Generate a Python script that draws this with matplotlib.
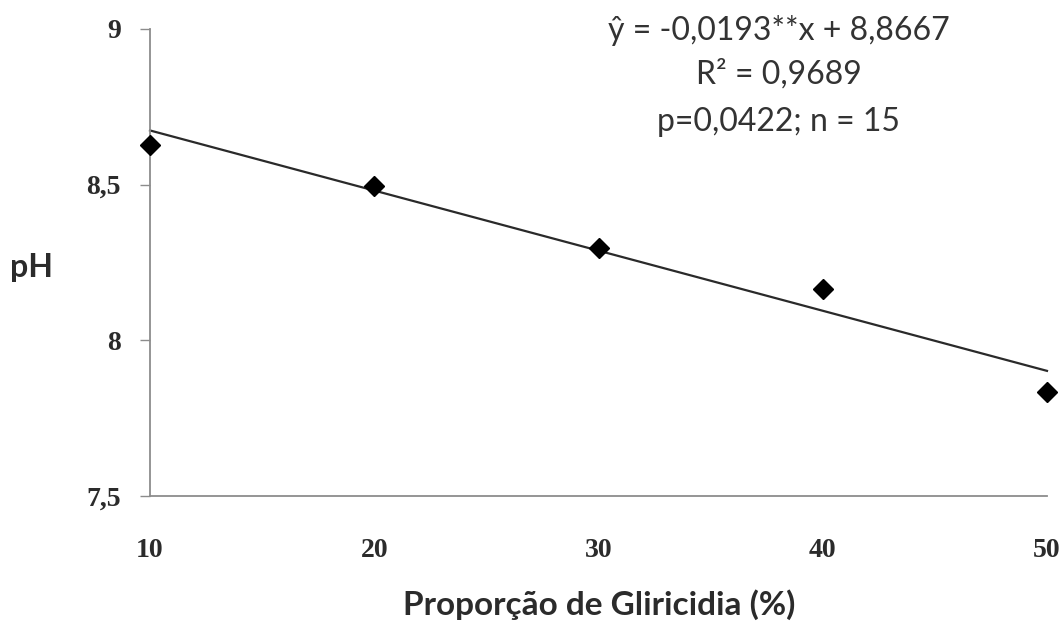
import matplotlib.pyplot as plt

# -----------------------------
# Data
# -----------------------------

proporcao = [10, 20, 30, 40, 50]
ph = [8.627, 8.495, 8.296, 8.164, 7.833]

slope = -0.0193
intercept = 8.8667

x_ticks = [10, 20, 30, 40, 50]
y_ticks = [7.5, 8.0, 8.5, 9.0]
y_tick_labels = ["7,5", "8", "8,5", "9"]

eq_lines = ["ŷ = -0,0193**x + 8,8667", "R² = 0,9689", "p=0,0422; n = 15"]

# -----------------------------
# Graph
# -----------------------------

fig = plt.figure(figsize=(10.64, 6.27), dpi=100)
ax = fig.add_axes([0.141, 0.209, 0.843, 0.745])

fit_x = [proporcao[0], proporcao[-1]]
fit_y = [slope * v + intercept for v in fit_x]
ax.plot(fit_x, fit_y, color="#2a2a2a", lw=1.6, zorder=2, clip_on=False)
ax.plot(proporcao, ph, linestyle="none", marker="D", ms=10,
        color="black", zorder=3, clip_on=False)

ax.set_xlim(10, 50)
ax.set_ylim(7.5, 9)
ax.set_xticks(x_ticks)
ax.set_yticks(y_ticks)
ax.set_yticklabels(y_tick_labels)

for side in ["top", "right"]:
    ax.spines[side].set_visible(False)
for side in ["left", "bottom"]:
    ax.spines[side].set_color("#8c8c8c")
    ax.spines[side].set_linewidth(1.3)

ax.tick_params(axis="y", length=7, width=1, color="#8c8c8c", pad=14)
ax.tick_params(axis="x", length=0, pad=30)
for lab in ax.get_xticklabels() + ax.get_yticklabels():
    lab.set_family("Liberation Serif")
    lab.set_fontweight("bold")
    lab.set_fontsize(20)
    lab.set_color("#2b2b2b")

fig.text(0.030, 0.573, "pH", fontsize=23, fontweight="bold",
         family="Lato", color="#2b2b2b", ha="center", va="center")
fig.text(0.563, 0.035, "Proporção de Gliricidia (%)", fontsize=24,
         fontweight="bold", family="Lato", color="#2b2b2b",
         ha="center", va="center")

eq_y = [0.952, 0.882, 0.806]
for line, yy in zip(eq_lines, eq_y):
    fig.text(0.732, yy, line, fontsize=23, family="Lato",
             color="#333333", ha="center", va="center")

fig.savefig("out.png", dpi=100)
